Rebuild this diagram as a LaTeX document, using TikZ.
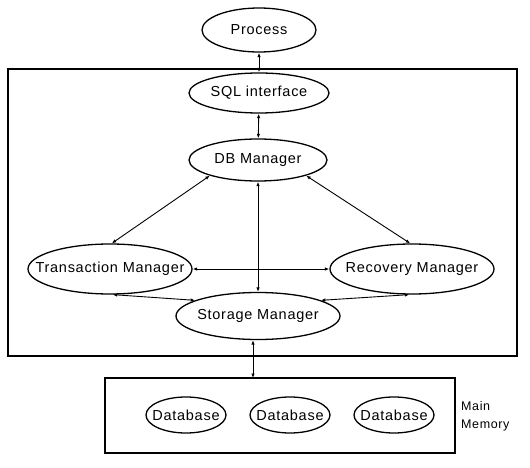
\documentclass[tikz,border=0pt]{standalone}
\usepackage{fontspec}
\setmainfont{Liberation Sans}[LetterSpace=5]
\usetikzlibrary{shapes.geometric,arrows.meta}
\newcommand{\zw}[1]{\makebox[0pt]{#1}}
\begin{document}
\begin{tikzpicture}[x=1pt,y=-1pt,
  ell/.style={draw,ellipse,line width=1.3pt,inner sep=0pt,font=\fontsize{14.5}{16}\selectfont},
  conn/.style={line width=0.9pt,{Latex[length=4.5pt,width=3.5pt]}-{Latex[length=4.5pt,width=3.5pt]}},
  box/.style={draw,line width=1.2pt}]
\useasboundingbox (0,0) rectangle (530,468);
\draw[box] (8,69) rectangle (517,356);
\draw[box] (105,378) rectangle (455,453);
\node[ell,minimum width=114pt,minimum height=44pt] (proc) at (259,30) {\zw{Process}};
\node[ell,fill=white,minimum width=140pt,minimum height=40pt] (sql) at (259,93) {\zw{SQL interface}};
\node[ell,minimum width=138pt,minimum height=42pt] (db) at (258,160) {\zw{DB Manager}};
\node[ell,minimum width=164pt,minimum height=50pt] (tm) at (110,269) {\zw{Transaction Manager}};
\node[ell,minimum width=164pt,minimum height=50pt] (rm) at (412,269) {\zw{Recovery Manager}};
\node[ell,minimum width=164pt,minimum height=47pt] (sm) at (258,316) {\zw{Storage Manager}};
\node[ell,minimum width=80pt,minimum height=36pt] (d1) at (186,415) {\zw{Database}};
\node[ell,minimum width=80pt,minimum height=36pt] (d2) at (290,415) {\zw{Database}};
\node[ell,minimum width=80pt,minimum height=36pt] (d3) at (394,415) {\zw{Database}};
\node[anchor=west,align=left,inner sep=0pt,font=\fontsize{12.5}{18}\selectfont] (mm) at (461,416) {Main\\Memory};
\coordinate (mtop) at (253,378);
\draw[conn] (proc) -- (sql);
\draw[conn] (sql) -- (db);
\draw[conn] (db.-162) -- (tm.86);
\draw[conn] (db.-18) -- (rm.94);
\draw[conn] (db.south) -- (sm.north);
\draw[conn] (tm.east) -- (rm.west);
\draw[conn] (tm.-84) -- (sm.166);
\draw[conn] (rm.-96) -- (sm.14);
\draw[conn] (sm.south -| mtop) -- (mtop);
\end{tikzpicture}
\end{document}
